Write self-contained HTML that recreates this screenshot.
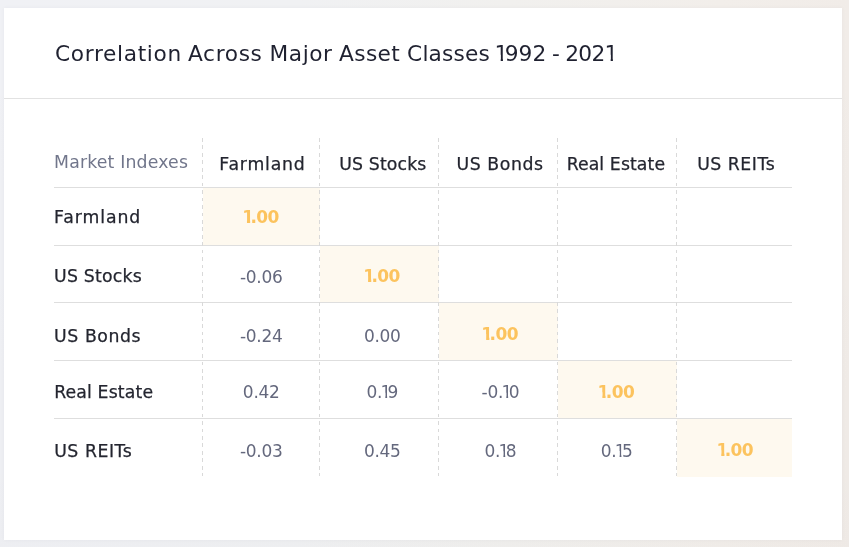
<!DOCTYPE html>
<html><head><meta charset="utf-8"><title>Correlation Across Major Asset Classes</title>
<style>
*{box-sizing:border-box;margin:0;padding:0}
html,body{width:849px;height:547px;overflow:hidden}
body{position:relative;background:linear-gradient(to bottom,rgba(0,0,0,0) 0%,rgba(0,0,0,0.012) 100%),linear-gradient(90deg,#f0f1f5 0%,#f0f1f3 35%,#f1f0ee 60%,#f2eeea 85%,#f1ece8 100%);font-family:"DejaVu Sans","Liberation Sans",sans-serif}
.card{position:absolute;left:4px;top:8px;width:838px;height:532px;background:#fff;box-shadow:0 0 4px rgba(40,40,60,0.045)}
.title{position:absolute;left:0;top:39.19px;width:849px;height:30px;line-height:30px;font-size:21.7px;color:#1f2130;white-space:nowrap}
.title span{position:absolute;top:0}
.title b{display:inline-block;font-weight:normal;line-height:30px;clip-path:polygon(0 0,8.46px 0,8.46px 100%,6.19px 100%,6.19px 15.63px,0 15.63px);margin-right:-3.5px}
.sep{position:absolute;left:4px;top:98px;width:838px;height:1px;background:#e2e2e2}
.hl{position:absolute;background:#fef9ef}
.hr{position:absolute;left:54px;width:738px;height:1px;background:#dedede}
.vd{position:absolute;top:138.2px;width:1px;height:338.3px;background:repeating-linear-gradient(to bottom,#d9d9d9 0,#d9d9d9 3.7px,transparent 3.7px,transparent 7.45px)}
.mi,.th,.rl,.num,.one{position:absolute;line-height:20px;white-space:nowrap}
.mi{font-size:17.3px;color:#71768b}
.th{font-size:17.3px;color:#23252f;-webkit-text-stroke:0.25px #23252f}
.rl{font-size:17.3px;color:#23252f;-webkit-text-stroke:0.25px #23252f}
.num{width:120px;text-align:center;font-size:17px;color:#64687d;letter-spacing:-0.3px}
.one{width:120px;text-align:center;font-size:17px;font-weight:bold;color:#fcc35e;letter-spacing:-0.6px}
.num b{display:inline-block;font-weight:normal;line-height:20px;clip-path:polygon(0 0,6.66px 0,6.66px 100%,4.85px 100%,4.85px 10.49px,0 10.49px);margin-left:-1.6px;margin-right:-3.4px}
.one b{display:inline-block;line-height:20px;clip-path:polygon(0 0,7.99px 0,7.99px 100%,4.81px 100%,4.81px 10.49px,0 10.49px);margin-left:-1.5px;margin-right:-3.0px}
</style></head><body>
<div class="card"></div>
<div class="title"><span style="left:55.0px;letter-spacing:0.66px">Correlation</span><span style="left:188.0px;letter-spacing:0.64px">Across</span><span style="left:269.5px;letter-spacing:0.57px">Major</span><span style="left:339.1px;letter-spacing:0.33px">Asset</span><span style="left:407.1px;letter-spacing:0.18px">Classes</span><span style="left:494.5px;letter-spacing:0px"><b>1</b>992</span><span style="left:552.1px;letter-spacing:0px">-</span><span style="left:565.3px;letter-spacing:-0.75px">202<b>1</b></span></div>
<div class="sep"></div>
<div class="hl" style="left:203px;top:188px;width:117px;height:57px"></div>
<div class="hl" style="left:320px;top:246px;width:119px;height:56px"></div>
<div class="hl" style="left:439px;top:303px;width:119px;height:57px"></div>
<div class="hl" style="left:558px;top:361px;width:119px;height:57px"></div>
<div class="hl" style="left:677px;top:419px;width:115px;height:57.5px"></div>
<div class="hr" style="top:187px"></div>
<div class="hr" style="top:245px"></div>
<div class="hr" style="top:302px"></div>
<div class="hr" style="top:360px"></div>
<div class="hr" style="top:418px"></div>
<div class="vd" style="left:202px"></div>
<div class="vd" style="left:319px"></div>
<div class="vd" style="left:438px"></div>
<div class="vd" style="left:557px"></div>
<div class="vd" style="left:676px"></div>
<div class="mi" style="left:54.12px;top:152.01px;letter-spacing:0.170px">Market Indexes</div>
<div class="th" style="left:219.26px;top:154.31px;letter-spacing:0.808px">Farmland</div>
<div class="th" style="left:339.34px;top:154.31px;letter-spacing:0.127px">US Stocks</div>
<div class="th" style="left:456.40px;top:154.31px;letter-spacing:0.593px">US Bonds</div>
<div class="th" style="left:566.63px;top:154.31px;letter-spacing:0.098px">Real Estate</div>
<div class="th" style="left:697.14px;top:154.31px;letter-spacing:0.532px">US REITs</div>
<div class="rl" style="left:54.11px;top:206.71px;letter-spacing:0.899px">Farmland</div>
<div class="one" style="left:201.20px;top:206.91px"><b>1</b>.00</div>
<div class="rl" style="left:54.10px;top:265.81px;letter-spacing:0.216px">US Stocks</div>
<div class="num" style="left:201.20px;top:267.11px">-0.06</div>
<div class="one" style="left:322.30px;top:265.81px"><b>1</b>.00</div>
<div class="rl" style="left:54.10px;top:325.71px;letter-spacing:0.571px">US Bonds</div>
<div class="num" style="left:201.20px;top:325.81px">-0.24</div>
<div class="num" style="left:322.30px;top:325.81px">0.00</div>
<div class="one" style="left:440.40px;top:323.51px"><b>1</b>.00</div>
<div class="rl" style="left:54.14px;top:382.01px;letter-spacing:0.144px">Real Estate</div>
<div class="num" style="left:201.20px;top:382.21px">0.42</div>
<div class="num" style="left:322.30px;top:382.21px">0.<b>1</b>9</div>
<div class="num" style="left:440.40px;top:382.21px">-0.<b>1</b>0</div>
<div class="one" style="left:556.60px;top:381.71px"><b>1</b>.00</div>
<div class="rl" style="left:54.18px;top:440.81px;letter-spacing:0.543px">US REITs</div>
<div class="num" style="left:201.20px;top:440.91px">-0.03</div>
<div class="num" style="left:322.30px;top:440.71px">0.45</div>
<div class="num" style="left:440.40px;top:440.71px">0.<b>1</b>8</div>
<div class="num" style="left:556.60px;top:440.61px">0.<b>1</b>5</div>
<div class="one" style="left:675.50px;top:439.81px"><b>1</b>.00</div>
</body></html>
